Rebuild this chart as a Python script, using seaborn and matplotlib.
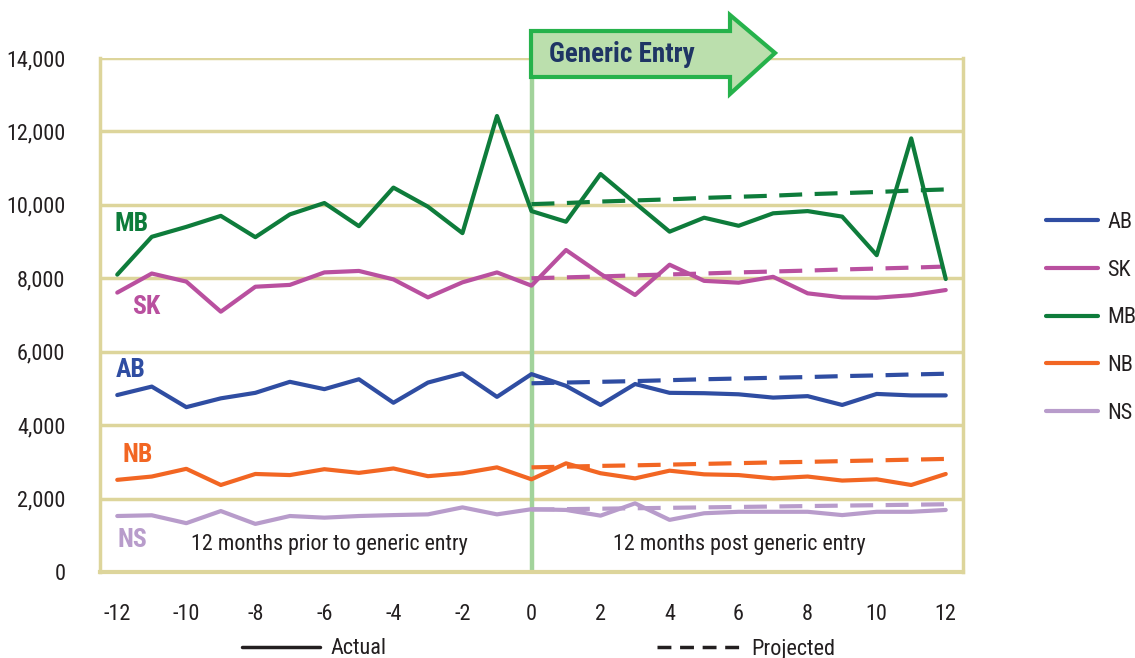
import numpy as np
import pandas as pd
import matplotlib
matplotlib.use("Agg")
import matplotlib.pyplot as plt
import matplotlib.transforms as mtrans
from matplotlib.patches import Polygon
from matplotlib.lines import Line2D
import seaborn as sns

# ---------------- data ----------------
months = list(range(-12, 13))
proj_months = list(range(0, 13))

ab_actual = [4820, 5050, 4490, 4730, 4880, 5180, 4980, 5250, 4610, 5160, 5410, 4770, 5390,
             5070, 4550, 5120, 4880, 4870, 4840, 4750, 4790, 4550, 4850, 4810, 4810]
sk_actual = [7610, 8130, 7910, 7090, 7770, 7820, 8160, 8200, 7970, 7480, 7890, 8160, 7800,
             8770, 8120, 7545, 8370, 7930, 7880, 8040, 7590, 7480, 7470, 7540, 7680]
mb_actual = [8100, 9130, 9400, 9700, 9120, 9740, 10050, 9420, 10470, 9950, 9230, 12420, 9830,
             9540, 10840, 10050, 9270, 9650, 9430, 9770, 9830, 9680, 8630, 11810, 7980]
nb_actual = [2510, 2600, 2810, 2370, 2670, 2640, 2800, 2700, 2820, 2610, 2690, 2850, 2525,
             2960, 2690, 2550, 2760, 2660, 2640, 2550, 2600, 2490, 2525, 2370, 2670]
ns_actual = [1525, 1545, 1330, 1660, 1310, 1525, 1480, 1525, 1550, 1570, 1760, 1570, 1710,
             1690, 1535, 1870, 1420, 1600, 1640, 1640, 1640, 1550, 1640, 1640, 1690]

ab_proj = [5140, 5160, 5180, 5200, 5225, 5250, 5270, 5290, 5310, 5335, 5355, 5380, 5400]
sk_proj = [8000, 8025, 8050, 8080, 8105, 8130, 8160, 8185, 8210, 8240, 8265, 8290, 8320]
mb_proj = [10020, 10050, 10090, 10120, 10150, 10190, 10220, 10250, 10290, 10320, 10350, 10390, 10420]
nb_proj = [2850, 2870, 2890, 2905, 2925, 2945, 2965, 2985, 3000, 3020, 3040, 3060, 3080]
ns_proj = [1700, 1712, 1724, 1736, 1748, 1760, 1772, 1784, 1796, 1808, 1820, 1832, 1845]

provinces = ["AB", "SK", "MB", "NB", "NS"]
actual = dict(AB=ab_actual, SK=sk_actual, MB=mb_actual, NB=nb_actual, NS=ns_actual)
projected = dict(AB=ab_proj, SK=sk_proj, MB=mb_proj, NB=nb_proj, NS=ns_proj)

x_tick_labels = [-12, -10, -8, -6, -4, -2, 0, 2, 4, 6, 8, 10, 12]
y_ticks = [0, 2000, 4000, 6000, 8000, 10000, 12000, 14000]

colors = {"AB": "#2f4da2", "SK": "#b9509f", "MB": "#0e7c3b",
          "NB": "#f26623", "NS": "#b89ccb"}

# ---------------- frame ----------------
rows = []
for p in provinces:
    for m, v in zip(months, actual[p]):
        rows.append((m, v, p, "Actual"))
    for m, v in zip(proj_months, projected[p]):
        rows.append((m, v, p, "Projected"))
df = pd.DataFrame(rows, columns=["month", "value", "prov", "kind"])

# ---------------- style ----------------
sns.set_style("white")
FONT = ["Roboto Condensed", "Roboto", "DejaVu Sans"]
plt.rcParams["font.family"] = FONT
KHAKI = "#ddd59b"
TXT = "#231f20"
FS = 16

W, H = 1135, 658
fig = plt.figure(figsize=(W / 100, H / 100), dpi=100)
ax = fig.add_axes([100 / W, 1 - 572 / H, (963 - 100) / W, (572 - 58) / H])

sns.lineplot(data=df, x="month", y="value", hue="prov", style="kind",
             palette=colors, dashes={"Actual": "", "Projected": (5.5, 3)},
             linewidth=3, estimator=None, legend=False, ax=ax, zorder=3)

# generic entry vertical line
ax.vlines(0, 0, 14735, color="#a2d39b", lw=3.2, clip_on=False, zorder=2)

ax.set_xlim(-12.5, 12.5)
ax.set_ylim(0, 14000)
ax.set_xlabel("")
ax.set_ylabel("")
ax.set_xticks(x_tick_labels)
ax.set_xticklabels([str(v) for v in x_tick_labels])
ax.set_xticks(np.arange(-12.5, 13, 1), minor=True)
ax.set_yticks(y_ticks)
ax.set_yticklabels([f"{v:,}" for v in y_ticks])

ax.tick_params(axis="x", which="major", length=0, pad=23, labelsize=FS, labelcolor=TXT)
ax.tick_params(axis="x", which="minor", length=12, width=2, color=KHAKI, direction="out")
ax.tick_params(axis="y", which="major", length=10, width=2.5, color=KHAKI,
               pad=15, labelsize=FS, labelcolor=TXT)

ax.yaxis.grid(True, color=KHAKI, lw=2.5)
ax.set_axisbelow(True)
for s in ["left", "right"]:
    ax.spines[s].set_color(KHAKI)
    ax.spines[s].set_linewidth(2.5)
ax.spines["top"].set_visible(False)
ax.spines["bottom"].set_color(KHAKI)
ax.spines["bottom"].set_linewidth(3)

# province labels
lab_pos = {"MB": (-11.6, 9480), "SK": (-11.15, 7220), "AB": (-11.6, 5500),
           "NB": (-11.4, 3190), "NS": (-11.55, 880)}
for p, (xx, yy) in lab_pos.items():
    ax.text(xx, yy, p, color=colors[p], fontsize=18.5, fontweight="bold",
            ha="center", va="center", zorder=4)

ax.text(-5.86, 740, "12 months prior to generic entry", fontsize=15.8,
        color=TXT, ha="center", va="center")
ax.text(6.03, 740, "12 months post generic entry", fontsize=15.8,
        color=TXT, ha="center", va="center")

# arrow in pixel coordinates
pix = mtrans.Affine2D().scale(1 / W, -1 / H).translate(0, 1) + fig.transFigure
arrow = Polygon([(531, 31), (730, 31), (730, 15), (775, 53), (730, 94), (730, 77), (531, 77)],
                closed=True, transform=pix, facecolor="#bbdfad", edgecolor="#26b24b",
                lw=3, joinstyle="miter", zorder=5)
fig.patches.append(arrow)
fig.text(549 / W, 1 - 55 / H, "Generic Entry", fontsize=19.5, fontweight="bold",
         color="#1f3564", ha="left", va="center", zorder=6)

# right legend
handles = [Line2D([], [], color=colors[p], lw=3) for p in provinces]
fig.legend(handles, provinces, loc="upper left",
           bbox_to_anchor=(1046 / W, 1 - 212 / H), frameon=False,
           fontsize=FS, handlelength=2.35, handletextpad=0.42,
           labelspacing=1.2, labelcolor=TXT, borderpad=0, borderaxespad=0)

# bottom legends
fig.legend([Line2D([], [], color=TXT, lw=2.5)], ["Actual"], loc="center left",
           bbox_to_anchor=(242 / W, 1 - 649 / H), frameon=False,
           fontsize=FS, handlelength=3.5, handletextpad=0.5, labelcolor=TXT,
           borderpad=0, borderaxespad=0)
fig.legend([Line2D([], [], color=TXT, lw=2.5, dashes=(4, 2.5))], ["Projected"],
           loc="center left", bbox_to_anchor=(657 / W, 1 - 649 / H), frameon=False,
           fontsize=FS, handlelength=3.75, handletextpad=0.5, labelcolor=TXT,
           borderpad=0, borderaxespad=0)

fig.savefig("out.png", dpi=100)
